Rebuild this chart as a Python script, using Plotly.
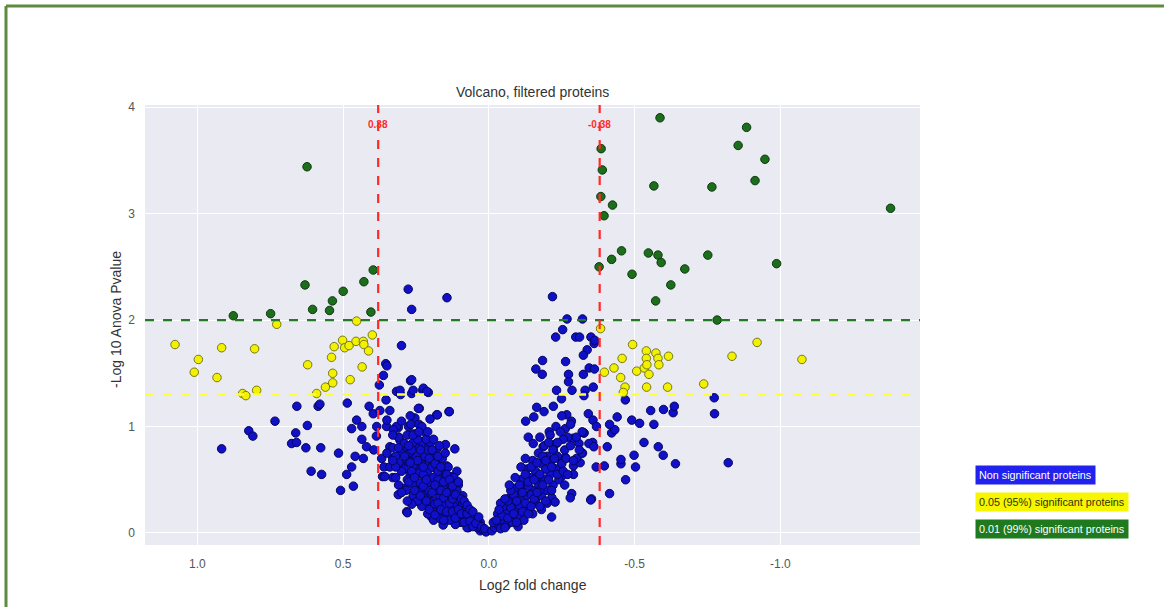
import plotly.graph_objects as go

# ---------------- data (log2 fold change, -log10 p) ----------------
green = [
    (0.877, 2.04), (0.749, 2.06), (0.631, 2.33), (0.605, 2.10), (0.547, 2.09),
    (0.537, 2.18), (0.500, 2.27), (0.429, 2.36), (0.397, 2.47), (0.405, 2.075),
    (0.624, 3.44),
    (-0.587, 3.90), (-0.884, 3.81), (-0.855, 3.64), (-0.947, 3.51), (-0.913, 3.31),
    (-0.566, 3.26), (-0.765, 3.25), (-1.378, 3.05), (-0.385, 3.61), (-0.389, 3.41),
    (-0.384, 3.16), (-0.424, 3.08), (-0.395, 2.98), (-0.455, 2.65), (-0.421, 2.57),
    (-0.378, 2.50), (-0.547, 2.63), (-0.580, 2.61), (-0.591, 2.54), (-0.491, 2.43),
    (-0.672, 2.48), (-0.751, 2.61), (-0.987, 2.53), (-0.624, 2.33), (-0.572, 2.18),
    (-0.783, 2.00),
]

yellow = [
    (0.728, 1.96), (0.454, 1.99), (1.077, 1.77), (0.997, 1.63), (1.011, 1.51),
    (0.917, 1.74), (0.933, 1.46), (0.804, 1.73), (0.797, 1.34), (0.845, 1.31),
    (0.834, 1.29), (0.622, 1.58), (0.591, 1.31), (0.561, 1.37), (0.536, 1.41),
    (0.536, 1.50), (0.540, 1.65), (0.531, 1.75), (0.502, 1.81), (0.495, 1.74),
    (0.480, 1.76), (0.456, 1.80), (0.431, 1.80), (0.429, 1.77), (0.400, 1.86),
    (0.413, 1.71), (0.435, 1.56), (0.476, 1.44),
    (-0.383, 1.92), (-0.396, 1.51), (-0.429, 1.55), (-0.457, 1.64), (-0.452, 1.46),
    (-0.467, 1.37), (-0.461, 1.32), (-0.493, 1.77), (-0.507, 1.52), (-0.533, 1.55),
    (-0.540, 1.71), (-0.540, 1.64), (-0.542, 1.58), (-0.549, 1.49), (-0.541, 1.37),
    (-0.573, 1.69), (-0.580, 1.64), (-0.583, 1.58), (-0.616, 1.66), (-0.613, 1.37),
    (-0.737, 1.40), (-0.834, 1.66), (-0.920, 1.79), (-1.074, 1.63),
]

blue = [
    # right-side scattered
    (-0.773, 1.27), (-0.774, 1.12), (-0.821, 0.66), (-0.640, 0.65), (-0.598, 0.73),
    (-0.581, 0.81), (-0.532, 0.85), (-0.503, 0.62), (-0.498, 0.73), (-0.469, 0.50),
    (-0.453, 0.65), (-0.453, 0.69), (-0.414, 0.37), (-0.396, 0.63), (-0.406, 0.81),
    (-0.421, 0.94), (-0.432, 0.97), (-0.414, 1.02), (-0.440, 1.09), (-0.490, 1.06),
    (-0.517, 1.03), (-0.566, 1.02), (-0.555, 1.15), (-0.599, 1.16), (-0.632, 1.13),
    (-0.636, 1.19), (-0.468, 1.25), (-0.356, 0.85), (-0.326, 0.94), (-0.321, 0.75),
    (-0.368, 0.62), (-0.352, 0.32),
    # left-side scattered
    (0.917, 0.79), (0.824, 0.96), (0.810, 0.91), (0.734, 1.05), (0.659, 1.19),
    (0.623, 1.01), (0.663, 0.94), (0.677, 0.84), (0.660, 0.85), (0.628, 0.80),
    (0.577, 0.80), (0.610, 0.58), (0.574, 0.55), (0.586, 1.19), (0.580, 1.21),
    (0.516, 0.75), (0.509, 0.40), (0.488, 0.55), (0.465, 0.44), (0.486, 1.22),
    (0.471, 0.62), (0.459, 0.72), (0.431, 0.70), (0.471, 0.98), (0.454, 1.06),
    (0.436, 1.00), (0.436, 0.88), (0.420, 0.81), (0.411, 1.19), (0.397, 1.12),
    (0.385, 1.00), (0.386, 0.91), (0.395, 0.78), (0.374, 1.15), (0.300, 1.76),
    (0.354, 1.59), (0.350, 1.57), (0.362, 1.48), (0.376, 1.39), (0.353, 1.25),
    (0.317, 1.33), (0.303, 1.30), (0.265, 1.31), (0.269, 1.43), (0.227, 1.34),
    (0.208, 1.32), (0.137, 1.14), (0.179, 1.11), (0.202, 1.07), (0.239, 1.17),
    (0.311, 0.99), (0.276, 1.00), (0.351, 1.00), (0.340, 0.81), (0.282, 0.80),
    (0.149, 0.83), (0.117, 0.79), (0.282, 0.20), (0.311, 0.36),
    (0.277, 2.29), (0.265, 2.10), (0.144, 2.21), (-0.218, 2.22),
    (0.305, 1.34), (0.265, 1.44), (0.260, 1.34), (0.225, 1.36), (0.213, 1.33),
    (0.136, 1.14), (0.177, 1.11), (0.242, 1.17), (0.254, 1.08), (0.268, 1.02),
    (0.317, 1.00), (0.350, 1.06), (0.310, 0.90), (0.260, 0.93),
    (0.340, 1.15), (0.328, 0.97), (0.368, 0.70), (0.360, 0.62), (0.365, 0.53),
    (0.330, 0.52), (0.330, 0.70), (0.305, 0.87), (0.294, 0.62), (0.271, 0.72),
    (0.260, 0.52), (0.265, 0.31), (0.240, 0.41), (0.240, 0.29), (0.210, 0.35),
    (0.207, 0.24), (0.168, 0.15), (0.157, 0.28), (0.200, 0.50), (0.150, 0.40),
    (0.130, 0.53), (0.120, 0.35), (0.110, 0.22), (0.095, 0.10), (0.080, 0.13),
    (0.070, 0.05), (0.050, 0.07), (0.030, 0.02), (0.250, 0.62), (0.225, 0.70),
    (0.210, 0.80), (0.200, 0.75), (0.180, 0.68), (0.145, 0.63), (0.110, 0.58),
    (0.105, 0.45), (0.090, 0.35), (0.080, 0.25), (0.060, 0.18), (0.050, 0.12),
    (0.357, 0.53), (0.280, 0.19), (0.157, 0.075), (0.197, 0.15),
    # right arm, upper part
    (-0.268, 2.01), (-0.321, 2.01), (-0.253, 1.91), (-0.229, 1.84), (-0.298, 1.84),
    (-0.311, 1.84), (-0.350, 1.84), (-0.337, 1.72), (-0.324, 1.67), (-0.361, 1.78),
    (-0.363, 1.81), (-0.184, 1.62), (-0.161, 1.54), (-0.183, 1.49), (-0.263, 1.61),
    (-0.273, 1.49), (-0.273, 1.42), (-0.324, 1.49), (-0.344, 1.55), (-0.362, 1.54),
    (-0.232, 1.34), (-0.285, 1.34), (-0.330, 1.34), (-0.358, 1.37), (-0.249, 1.26),
    (-0.326, 1.29), (-0.221, 1.19), (-0.164, 1.18), (-0.189, 1.14), (-0.154, 1.09),
    (-0.126, 1.05), (-0.267, 1.11), (-0.283, 1.05), (-0.341, 1.12), (-0.357, 1.06),
    (-0.369, 1.00), (-0.262, 0.98), (-0.207, 0.95), (-0.175, 0.90), (-0.135, 0.90),
    (-0.152, 0.84), (-0.186, 0.81), (-0.231, 0.84), (-0.289, 0.89), (-0.309, 0.84),
    (-0.326, 0.94), (-0.343, 0.84), (-0.318, 0.75), (-0.360, 0.81), (-0.262, 0.71),
    (-0.221, 0.78), (-0.249, 0.66), (-0.221, 0.61), (-0.249, 0.53), (-0.290, 0.63),
    (-0.313, 0.66), (-0.284, 0.37), (-0.279, 0.33), (-0.216, 0.33), (-0.227, 0.29),
    (-0.215, 0.15), (-0.349, 0.31),
    # dense V, left arm
    (0.02, 0.03), (0.04, 0.05), (0.06, 0.08), (0.03, 0.10), (0.08, 0.12),
    (0.05, 0.15), (0.10, 0.10), (0.07, 0.20), (0.09, 0.17), (0.12, 0.15),
    (0.11, 0.25), (0.13, 0.22), (0.10, 0.30), (0.14, 0.30), (0.12, 0.38),
    (0.15, 0.18), (0.16, 0.26), (0.17, 0.35), (0.15, 0.42), (0.14, 0.48),
    (0.18, 0.22), (0.19, 0.30), (0.18, 0.40), (0.17, 0.47), (0.16, 0.55),
    (0.20, 0.28), (0.21, 0.36), (0.20, 0.45), (0.19, 0.52), (0.18, 0.60),
    (0.22, 0.32), (0.23, 0.42), (0.22, 0.50), (0.21, 0.58), (0.20, 0.65),
    (0.24, 0.38), (0.25, 0.48), (0.24, 0.56), (0.23, 0.64), (0.22, 0.72),
    (0.26, 0.45), (0.27, 0.55), (0.26, 0.63), (0.25, 0.72), (0.24, 0.80),
    (0.28, 0.50), (0.29, 0.60), (0.28, 0.68), (0.27, 0.76), (0.26, 0.85),
    (0.30, 0.58), (0.31, 0.66), (0.30, 0.75), (0.29, 0.84), (0.32, 0.72),
    (0.33, 0.80), (0.31, 0.90), (0.19, 0.70), (0.21, 0.78), (0.23, 0.86),
    (0.25, 0.93), (0.17, 0.62), (0.15, 0.56), (0.13, 0.45), (0.11, 0.40),
    (0.09, 0.28), (0.08, 0.22), (0.06, 0.14), (0.04, 0.12), (0.16, 0.70),
    (0.18, 0.78), (0.20, 0.85), (0.22, 0.95), (0.24, 1.02), (0.14, 0.62),
    (0.12, 0.52), (0.28, 0.92), (0.30, 1.05), (0.27, 1.10), (0.23, 1.00),
    (0.26, 0.35), (0.23, 0.25), (0.21, 0.18), (0.19, 0.12), (0.29, 0.42),
    (0.32, 0.52), (0.34, 0.62), (0.35, 0.75), (0.33, 0.92), (0.01, 0.01),
    (0.035, 0.06), (0.075, 0.05), (0.115, 0.08), (0.135, 0.12), (0.165, 0.13),
    (0.185, 0.27), (0.205, 0.40), (0.225, 0.55), (0.245, 0.68), (0.265, 0.78),
    (0.155, 0.33), (0.175, 0.50), (0.195, 0.62), (0.215, 0.88), (0.235, 0.47),
    (0.285, 0.40), (0.275, 0.48), (0.285, 0.70), (0.275, 0.82), (0.265, 0.58),
    (0.255, 0.52), (0.255, 0.40), (0.245, 0.30), (0.265, 0.27), (0.245, 0.88),
    (0.235, 0.78), (0.235, 0.35), (0.225, 0.62), (0.225, 0.44), (0.215, 0.30),
    (0.215, 0.50), (0.205, 0.70), (0.205, 0.22), (0.195, 0.38), (0.195, 0.78),
    (0.185, 0.45), (0.185, 0.65), (0.185, 0.17), (0.175, 0.28), (0.175, 0.58),
    (0.175, 0.72), (0.165, 0.40), (0.165, 0.62), (0.165, 0.22), (0.155, 0.48),
    (0.155, 0.12), (0.145, 0.38), (0.145, 0.55), (0.145, 0.20), (0.135, 0.28),
    (0.135, 0.50), (0.125, 0.32), (0.125, 0.20), (0.125, 0.44), (0.115, 0.14),
    (0.115, 0.36), (0.105, 0.22), (0.105, 0.48), (0.095, 0.32), (0.095, 0.18),
    (0.085, 0.10), (0.085, 0.30), (0.075, 0.18), (0.075, 0.26), (0.065, 0.11),
    (0.065, 0.22), (0.055, 0.06), (0.055, 0.20), (0.045, 0.09), (0.035, 0.15),
    (0.025, 0.06), (0.015, 0.04), (0.31, 0.45), (0.30, 0.38), (0.32, 0.62),
    (0.33, 0.68), (0.27, 0.66), (0.29, 0.72), (0.31, 0.80), (0.28, 0.30),
    (0.26, 0.92), (0.24, 0.95), (0.21, 0.95), (0.19, 0.88), (0.17, 0.82),
    (0.15, 0.75),
    # dense V, right arm
    (-0.01, 0.02), (-0.02, 0.05), (-0.03, 0.08), (-0.04, 0.04), (-0.05, 0.12),
    (-0.06, 0.07), (-0.07, 0.15), (-0.08, 0.10), (-0.06, 0.20), (-0.09, 0.22),
    (-0.10, 0.16), (-0.08, 0.28), (-0.11, 0.30), (-0.12, 0.22), (-0.10, 0.38),
    (-0.13, 0.35), (-0.14, 0.26), (-0.12, 0.45), (-0.15, 0.40), (-0.16, 0.30),
    (-0.14, 0.52), (-0.17, 0.45), (-0.18, 0.35), (-0.16, 0.58), (-0.19, 0.50),
    (-0.20, 0.40), (-0.18, 0.65), (-0.21, 0.55), (-0.22, 0.45), (-0.20, 0.72),
    (-0.23, 0.60), (-0.24, 0.50), (-0.22, 0.78), (-0.25, 0.65), (-0.13, 0.60),
    (-0.11, 0.50), (-0.09, 0.42), (-0.07, 0.33), (-0.05, 0.25), (-0.15, 0.68),
    (-0.17, 0.75), (-0.19, 0.82), (-0.21, 0.92), (-0.23, 1.00), (-0.26, 0.78),
    (-0.27, 0.90), (-0.28, 1.02), (-0.25, 1.10), (-0.12, 0.12), (-0.10, 0.06),
    (-0.15, 0.18), (-0.18, 0.22), (-0.20, 0.28), (-0.03, 0.18), (-0.04, 0.28),
    (-0.26, 0.45), (-0.29, 0.55), (-0.30, 0.70), (-0.31, 0.78), (-0.32, 0.95),
    (-0.015, 0.10), (-0.045, 0.16), (-0.075, 0.24), (-0.105, 0.26), (-0.135, 0.44),
    (-0.165, 0.52), (-0.195, 0.60), (-0.215, 0.68), (-0.235, 0.72), (-0.255, 0.88),
    (-0.145, 0.36), (-0.175, 0.40), (-0.125, 0.70), (-0.085, 0.36), (-0.065, 0.30),
    (-0.025, 0.12), (-0.035, 0.22), (-0.055, 0.05), (-0.055, 0.32), (-0.065, 0.14),
    (-0.075, 0.40), (-0.085, 0.18), (-0.095, 0.10), (-0.095, 0.30), (-0.105, 0.45),
    (-0.115, 0.20), (-0.115, 0.38), (-0.125, 0.28), (-0.125, 0.55), (-0.135, 0.18),
    (-0.135, 0.48), (-0.145, 0.25), (-0.145, 0.62), (-0.155, 0.50), (-0.155, 0.32),
    (-0.165, 0.66), (-0.165, 0.38), (-0.175, 0.55), (-0.175, 0.25), (-0.185, 0.45),
    (-0.185, 0.72), (-0.195, 0.30), (-0.195, 0.68), (-0.205, 0.50), (-0.205, 0.85),
    (-0.215, 0.40), (-0.215, 0.62), (-0.225, 0.70), (-0.235, 0.55), (-0.235, 0.85),
    (-0.245, 0.95), (-0.255, 0.58), (-0.265, 0.70), (-0.270, 0.55), (-0.280, 0.82),
    (-0.290, 0.68), (-0.300, 0.90), (-0.110, 0.62), (-0.090, 0.52), (-0.070, 0.45),
]

x_tickvals = [1.0, 0.5, 0.0, -0.5, -1.0]
x_ticktext = ["1.0", "0.5", "0.0", "-0.5", "-1.0"]
y_tickvals = [0, 1, 2, 3, 4]
fc_cut = 0.38
p95 = 1.301
p99 = 2.0
legend_labels = ["Non significant proteins", "0.05 (95%) significant proteins",
                 "0.01 (99%) significant proteins"]

# ---------------- figure ----------------
FONT = "Liberation Sans, Arial, sans-serif"
W, H = 1164, 607
L, R, T, B = 145, 244, 105, 62

def px_to_paper(px, py):
    return (px - L) / (W - L - R), (H - B - py) / (H - T - B)

fig = go.Figure()

def add_series(pts, fill, edge, name):
    fig.add_trace(go.Scatter(
        x=[p[0] for p in pts], y=[p[1] for p in pts], mode="markers", name=name,
        marker=dict(size=8.5, color=fill, line=dict(color=edge, width=1)),
        showlegend=False, cliponaxis=True))

add_series(blue, "#1010c8", "#06065a", legend_labels[0])
add_series(yellow, "#f2f200", "#76761a", legend_labels[1])
add_series(green, "#1c6e1c", "#0d3a0d", legend_labels[2])

annotations = []
for xv, lbl in ((fc_cut, "0.38"), (-fc_cut, "-0.38")):
    annotations.append(dict(x=xv, xref="x", xanchor="center",
                            y=px_to_paper(0, 124)[1], yref="paper", yanchor="middle",
                            text=f"<b>{lbl}</b>", showarrow=False,
                            font=dict(family=FONT, size=10, color="#ff2a2a")))

# title
annotations.append(dict(x=0.5, xref="paper", xanchor="center",
                        y=px_to_paper(0, 92)[1], yref="paper", yanchor="middle",
                        text="Volcano, filtered proteins", showarrow=False,
                        font=dict(family=FONT, size=14, color="#333333")))
# axis titles
annotations.append(dict(x=0.5, xref="paper", xanchor="center",
                        y=px_to_paper(0, 585)[1], yref="paper", yanchor="middle",
                        text="Log2 fold change", showarrow=False,
                        font=dict(family=FONT, size=14, color="#333333")))
annotations.append(dict(x=px_to_paper(116, 0)[0], xref="paper", xanchor="center",
                        y=px_to_paper(0, 320)[1], yref="paper", yanchor="middle",
                        text="-Log 10 Anova Pvalue", showarrow=False, textangle=-90,
                        font=dict(family=FONT, size=14, color="#333333")))

# custom legend boxes
legend_styles = [("#2222ee", "#ffffff", 474.5), ("#f6f600", "#333300", 501.5),
                 ("#1f7a1f", "#ffffff", 528.5)]
for lbl, (bg, fg, py) in zip(legend_labels, legend_styles):
    annotations.append(dict(x=px_to_paper(975, 0)[0], xref="paper", xanchor="left",
                            y=px_to_paper(0, py)[1], yref="paper", yanchor="middle",
                            text=lbl, showarrow=False, bgcolor=bg, borderpad=3,
                            font=dict(family=FONT, size=10.8, color=fg)))

fig.update_layout(
    width=W, height=H,
    margin=dict(l=L, r=R, t=T, b=B, autoexpand=False),
    paper_bgcolor="#ffffff", plot_bgcolor="#eaeaf2",
    font=dict(family=FONT, size=12, color="#555555"),
    annotations=annotations,
    xaxis=dict(range=[1.18, -1.479], tickvals=x_tickvals, ticktext=x_ticktext,
               showgrid=True, gridcolor="#ffffff", gridwidth=1.2, zeroline=False,
               showline=False, ticks="", ticklabelstandoff=10,
               tickfont=dict(size=12, color="#555555")),
    yaxis=dict(range=[-0.113, 4.02], tickvals=y_tickvals,
               showgrid=True, gridcolor="#ffffff", gridwidth=1.2, zeroline=False,
               showline=False, ticks="", ticklabelstandoff=9,
               tickfont=dict(size=12, color="#555555")),
)

# threshold lines
fig.add_hline(y=p99, line=dict(color="#237a23", width=2.2, dash="dash"), layer="above")
fig.add_hline(y=p95, line=dict(color="#ffff3a", width=2.5, dash="dash"), layer="above")
for xv in (fc_cut, -fc_cut):
    fig.add_vline(x=xv, line=dict(color="#ff2a2a", width=2.2, dash="dash"), layer="above")

# outer green frame (top and left)
fig.add_shape(type="line", xref="paper", yref="paper",
              x0=px_to_paper(6, 0)[0], x1=px_to_paper(1170, 0)[0],
              y0=px_to_paper(0, 6)[1], y1=px_to_paper(0, 6)[1],
              line=dict(color="#5e8c3e", width=3))
fig.add_shape(type="line", xref="paper", yref="paper",
              x0=px_to_paper(6, 0)[0], x1=px_to_paper(6, 0)[0],
              y0=px_to_paper(0, 6)[1], y1=px_to_paper(0, 620)[1],
              line=dict(color="#5e8c3e", width=3))

fig.write_html("out.html", config={"displayModeBar": False},
               post_script="document.body.style.margin='0';")
